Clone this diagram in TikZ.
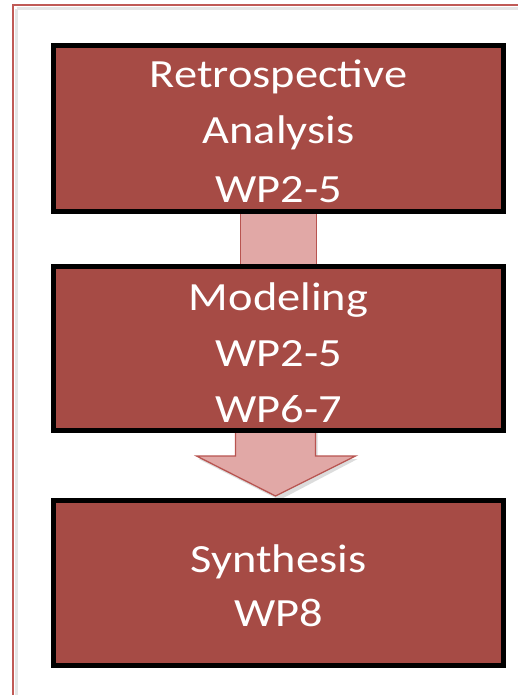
\documentclass[tikz,border=0pt]{standalone}
\usepackage{fontspec}
\setmainfont{Carlito}[FakeStretch=1.16]
\usetikzlibrary{calc,backgrounds}
\definecolor{boxred}{RGB}{166,75,69}
\definecolor{arrowpink}{RGB}{225,168,166}
\definecolor{arrowedge}{RGB}{184,84,80}
\definecolor{framered}{RGB}{192,90,86}
\tikzset{
  stepbox/.style={draw=black, line width=5pt, fill=boxred, rectangle, inner sep=0pt,
    minimum width=450pt, minimum height=166pt},
  flowarrow/.style={draw=arrowedge, line width=1.3pt, fill=arrowpink, line join=miter},
  boxtext/.style={text=white, font=\fontsize{40}{48}\selectfont, anchor=base, inner sep=0pt}
}
\begin{document}
\begin{tikzpicture}[x=1pt, y=-1pt]
\useasboundingbox (0,0) rectangle (518,695);
% boxes
\node[stepbox] (b1) at (278.5,128.5) {};
\node[stepbox, minimum height=164pt] (b2) at (278.5,348.5) {};
\node[stepbox, minimum height=165pt] (b3) at (278.5,583) {};
% texts
\node[boxtext] (t1a) at (278.5,88) {Retrospective};
\node[boxtext] (t1b) at (278.5,144) {Analysis};
\node[boxtext] (t1c) at (278.5,202) {WP2-5};
\node[boxtext] (t2a) at (278.5,310) {Modeling};
\node[boxtext] (t2b) at (278.5,366) {WP2-5};
\node[boxtext] (t2c) at (278.5,422) {WP6-7};
\node[boxtext] (t3a) at (278.5,572) {Synthesis};
\node[boxtext] (t3b) at (278.5,626) {WP8};
\begin{scope}[on background layer]
\fill[white] (0,0) rectangle (518,695);
% outer frame with soft inner shadow
\draw[black!10, line width=3pt] (16.5,9) -- (530,9);
\draw[black!10, line width=3pt] (16.5,9) -- (16.5,700);
\draw[framered, line width=1.5pt] (13,5) rectangle (530,710);
% arrow 1 (head hidden behind box 2)
\draw[flowarrow] ($(b1.south)+(-38,-10)$) rectangle ($(b2.north)+(38,10)$);
% arrow 2 shadow and arrow
\fill[black!30, opacity=0.45] ($(b2.south)+(-80,26)$) -- ($(b2.south)+(-41,26)$) -- ($(b2.south)+(-41,-5)$) -- ($(b2.south)+(39,-5)$) -- ($(b2.south)+(39,26)$) -- ($(b2.south)+(79,26)$) -- ($(b3.north)+(1,2)$) -- cycle;
\draw[flowarrow] ($(b2.south)+(-43,-10)$) -- ($(b2.south)+(37,-10)$) -- ($(b2.south)+(37,23)$) -- ($(b2.south)+(77,23)$) -- ($(b3.north)+(-3,-2)$) -- ($(b2.south)+(-82,23)$) -- ($(b2.south)+(-43,23)$) -- cycle;
\end{scope}
\end{tikzpicture}
\end{document}
